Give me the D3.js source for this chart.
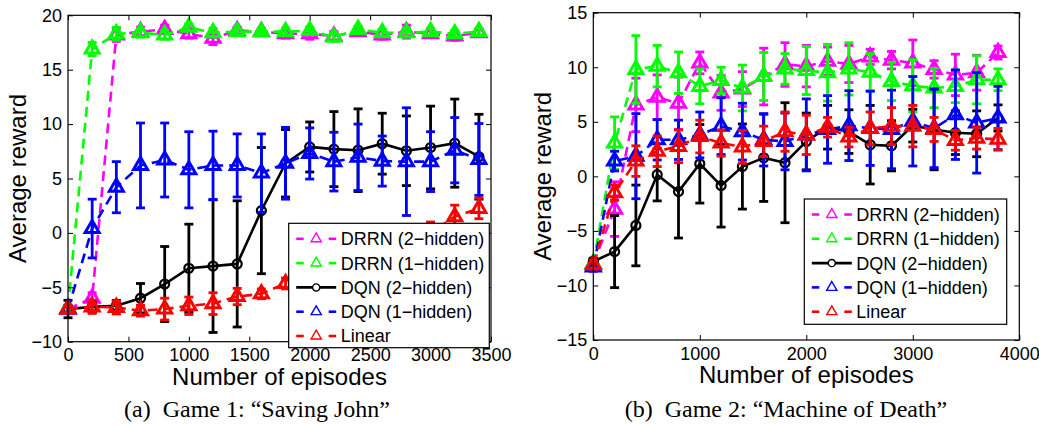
<!DOCTYPE html>
<html>
<head>
<meta charset="utf-8">
<script src="https://cdn.jsdelivr.net/npm/d3@7"></script>
<style>
  html, body { margin: 0; padding: 0; background: #fff; }
  svg { display: block; }
  text { font-family: "Liberation Sans", Arial, Helvetica, sans-serif; fill: #000; }
  .caption { font-family: "Liberation Serif", "Times New Roman", serif; white-space: pre; }
</style>
</head>
<body>
<svg id="chart" width="1039" height="425"></svg>
<script>
// Series order matches the legend (drawn back to front)
const seriesNames = ['DRRN (2\u2212hidden)', 'DRRN (1\u2212hidden)', 'DQN (2\u2212hidden)', 'DQN (1\u2212hidden)', 'Linear'];
const seriesColors = ['#ff00ff', '#00ff00', '#000000', '#0000ff', '#ff0000'];
const seriesMarkers = ['triangle', 'triangle', 'circle', 'triangle', 'triangle'];
const seriesDashed = [true, true, false, true, true];

// Game 1: "Saving John"
const game1Episodes = [0, 200, 400, 600, 800, 1000, 1200, 1400, 1600, 1800, 2000, 2200, 2400, 2600, 2800, 3000, 3200, 3400];
const game1XTicks = [0, 500, 1000, 1500, 2000, 2500, 3000, 3500];
const game1YTicks = [-10, -5, 0, 5, 10, 15, 20];

const game1Drrn2Mean = [-7.0, -6.0, 18.2, 18.5, 18.7, 18.3, 17.9, 18.6, 18.5, 18.3, 18.3, 18.1, 18.5, 18.2, 18.5, 18.3, 18.1, 18.4];
const game1Drrn2Err = [0.3, 0.5, 0.6, 0.4, 0.4, 0.4, 0.6, 0.3, 0.3, 0.4, 0.5, 0.4, 0.3, 0.4, 0.6, 0.3, 0.4, 0.3];
const game1Drrn1Mean = [-6.9, 16.9, 18.3, 18.4, 18.2, 18.9, 18.4, 18.5, 18.5, 18.5, 18.6, 18.0, 18.7, 18.4, 18.4, 18.5, 18.3, 18.5];
const game1Drrn1Err = [0.3, 0.6, 0.6, 0.4, 0.4, 0.3, 0.4, 0.3, 0.3, 0.3, 0.3, 0.4, 0.3, 0.3, 0.4, 0.3, 0.3, 0.3];
const game1Dqn2Mean = [-7.0, -6.8, -6.7, -6.0, -4.7, -3.25, -3.05, -2.85, 2.05, 6.4, 7.9, 7.7, 7.6, 8.2, 7.55, 7.85, 8.25, 7.0];
const game1Dqn2Err = [0.8, 0.5, 0.5, 1.35, 3.45, 4.05, 6.1, 5.8, 5.8, 3.1, 2.3, 3.45, 3.8, 2.8, 3.2, 3.8, 4.05, 3.9];
const game1Dqn1Mean = [-7.0, 0.4, 4.2, 6.2, 6.7, 5.8, 6.2, 6.2, 5.5, 6.4, 7.3, 6.55, 6.95, 6.6, 6.55, 6.55, 7.6, 6.75];
const game1Dqn1Err = [0.3, 2.7, 2.35, 3.9, 3.4, 3.5, 3.15, 2.9, 3.6, 3.3, 2.35, 2.7, 3.05, 2.3, 4.95, 2.75, 3.0, 3.3];
const game1LinearMean = [-7.0, -6.8, -6.85, -7.15, -7.0, -6.7, -6.5, -5.85, -5.6, -4.65, -4.2, -3.4, -2.6, -1.7, -0.8, 0.0, 1.5, 2.25];
const game1LinearErr = [0.3, 0.6, 0.6, 0.5, 1.0, 0.8, 1.0, 0.75, 0.45, 0.5, 0.6, 0.8, 0.8, 0.9, 1.0, 1.0, 1.05, 0.95];

// Game 2: "Machine of Death"
const game2Episodes = [0, 200, 400, 600, 800, 1000, 1200, 1400, 1600, 1800, 2000, 2200, 2400, 2600, 2800, 3000, 3200, 3400, 3600, 3800];
const game2XTicks = [0, 1000, 2000, 3000, 4000];
const game2YTicks = [-15, -10, -5, 0, 5, 10, 15];

const game2Drrn2Mean = [-8.0, -3.0, 6.55, 7.25, 6.7, 10.4, 7.65, 8.0, 9.15, 10.25, 10.1, 10.55, 10.3, 10.95, 10.65, 10.4, 9.8, 9.3, 9.5, 11.35];
const game2Drrn2Err = [0.4, 2.5, 2.45, 2.05, 2.4, 1.0, 1.6, 1.6, 2.6, 2.0, 1.9, 1.3, 1.7, 0.7, 0.8, 2.1, 0.8, 1.9, 1.6, 0.6];
const game2Drrn1Mean = [-8.0, 3.05, 9.8, 10.1, 9.5, 8.25, 8.8, 8.1, 9.15, 9.85, 9.7, 9.5, 9.85, 9.55, 8.7, 8.3, 8.1, 8.25, 8.85, 8.85];
const game2Drrn1Err = [0.4, 2.4, 3.1, 1.9, 1.9, 1.6, 1.2, 2.1, 2.2, 1.4, 2.2, 2.6, 2.4, 1.7, 1.75, 2.4, 1.8, 1.5, 2.2, 1.0];
const game2Dqn2Mean = [-7.8, -6.9, -4.5, 0.15, -1.4, 1.15, -0.85, 0.9, 1.7, 1.25, 3.2, 4.5, 4.1, 2.9, 2.8, 4.65, 4.3, 4.0, 3.9, 5.35];
const game2Dqn2Err = [0.3, 3.3, 3.7, 2.4, 4.25, 3.6, 3.8, 3.9, 4.0, 5.5, 2.6, 2.0, 2.0, 3.6, 2.3, 1.5, 3.7, 2.0, 2.1, 1.2];
const game2Dqn1Mean = [-8.3, 1.4, 1.85, 3.35, 3.35, 3.8, 4.6, 4.1, 3.35, 3.2, 3.8, 4.3, 4.65, 4.4, 4.3, 5.05, 4.4, 5.65, 4.9, 5.35];
const game2Dqn1Err = [0.4, 0.9, 3.9, 1.85, 1.8, 2.1, 2.6, 2.6, 2.4, 2.6, 3.3, 3.1, 3.2, 3.4, 3.6, 4.1, 3.6, 4.1, 4.6, 2.9];
const game2LinearMean = [-8.1, -1.5, 1.4, 2.3, 2.75, 3.65, 3.05, 2.7, 3.2, 4.1, 3.8, 4.5, 3.6, 4.4, 4.6, 4.6, 4.3, 3.3, 3.5, 3.4];
const game2LinearErr = [0.4, 0.7, 1.4, 1.4, 1.5, 1.5, 1.2, 1.5, 1.4, 1.8, 1.8, 0.9, 0.9, 1.5, 1.7, 1.9, 1.1, 0.9, 1.0, 1.0];

const svg = d3.select('#chart');
const tickFormat = d3.format('d');

function drawPanel(p) {
    const x = d3.scaleLinear().domain(p.xDomain).range([p.left, p.right]);
    const y = d3.scaleLinear().domain(p.yDomain).range([p.bottom, p.top]);
    const g = svg.append('g');

    // Series: error bars, connecting line, then markers
    p.means.forEach((means, i) => {
        const color = seriesColors[i];
        const pts = p.episodes.map((e, j) => ({ e: e, m: means[j], d: p.errs[i][j] }));
        const s = g.append('g');

        const bars = s.append('g').attr('stroke', color).attr('stroke-width', 2.8).attr('fill', 'none');
        pts.forEach(d => {
            const cx = x(d.e), y0 = y(d.m - d.d), y1 = y(d.m + d.d);
            bars.append('line').attr('x1', cx).attr('x2', cx).attr('y1', y0).attr('y2', y1);
            bars.append('line').attr('x1', cx - 4.5).attr('x2', cx + 4.5).attr('y1', y0).attr('y2', y0);
            bars.append('line').attr('x1', cx - 4.5).attr('x2', cx + 4.5).attr('y1', y1).attr('y2', y1);
        });

        s.append('path')
            .datum(pts)
            .attr('d', d3.line().x(d => x(d.e)).y(d => y(d.m)))
            .attr('fill', 'none')
            .attr('stroke', color)
            .attr('stroke-width', 2.6)
            .attr('stroke-dasharray', seriesDashed[i] ? '10,6' : null);

        const symbol = seriesMarkers[i] === 'circle'
            ? d3.symbol().type(d3.symbolCircle).size(64)
            : d3.symbol().type(d3.symbolTriangle).size(85);
        s.selectAll('.mk')
            .data(pts)
            .enter().append('path')
            .attr('transform', d => `translate(${x(d.e)},${y(d.m)})`)
            .attr('d', symbol)
            .attr('fill', 'none')
            .attr('stroke', color)
            .attr('stroke-width', seriesMarkers[i] === 'circle' ? 2.2 : 3);
    });

    // Axes with inward ticks on all four sides
    const axisStyle = sel => {
        sel.select('.domain').remove();
        sel.selectAll('.tick line').attr('stroke', '#000').attr('stroke-width', 1);
        sel.selectAll('text').attr('font-size', 18).attr('font-family', '"Liberation Sans", Arial, sans-serif');
    };
    g.append('g').attr('transform', `translate(0,${p.bottom})`)
        .call(d3.axisBottom(x).tickValues(p.xTicks).tickFormat(tickFormat).tickSize(-5).tickPadding(7))
        .call(axisStyle);
    g.append('g').attr('transform', `translate(0,${p.top})`)
        .call(d3.axisTop(x).tickValues(p.xTicks).tickSize(-5).tickFormat(''))
        .call(axisStyle);
    g.append('g').attr('transform', `translate(${p.left},0)`)
        .call(d3.axisLeft(y).tickValues(p.yTicks).tickSize(-5).tickPadding(6))
        .call(axisStyle);
    g.append('g').attr('transform', `translate(${p.right},0)`)
        .call(d3.axisRight(y).tickValues(p.yTicks).tickSize(-5).tickFormat(''))
        .call(axisStyle);

    g.append('rect')
        .attr('x', p.left).attr('y', p.top)
        .attr('width', p.right - p.left).attr('height', p.bottom - p.top)
        .attr('fill', 'none').attr('stroke', '#000').attr('stroke-width', 1.2);

    // Axis titles
    g.append('text')
        .attr('x', (p.left + p.right) / 2).attr('y', p.xTitleY)
        .attr('text-anchor', 'middle').attr('font-size', 24)
        .text('Number of episodes');
    g.append('text')
        .attr('transform', `translate(${p.yTitleX},${(p.top + p.bottom) / 2}) rotate(-90)`)
        .attr('text-anchor', 'middle').attr('font-size', 24)
        .text('Average reward');

    // Legend
    const lg = g.append('g').attr('transform', `translate(${p.legend.x},${p.legend.y})`);
    lg.append('rect')
        .attr('width', p.legend.w).attr('height', p.legend.h)
        .attr('fill', '#fff').attr('stroke', '#000').attr('stroke-width', 1.2);
    seriesNames.forEach((name, i) => {
        const ry = 15.5 + i * 24.3;
        const color = seriesColors[i];
        if (seriesDashed[i]) {
            lg.append('line').attr('x1', 7.5).attr('x2', 15).attr('y1', ry).attr('y2', ry)
                .attr('stroke', color).attr('stroke-width', 2.6);
            lg.append('line').attr('x1', 40).attr('x2', 47.5).attr('y1', ry).attr('y2', ry)
                .attr('stroke', color).attr('stroke-width', 2.6);
        } else {
            lg.append('line').attr('x1', 7.5).attr('x2', 47.5).attr('y1', ry).attr('y2', ry)
                .attr('stroke', color).attr('stroke-width', 2.6);
        }
        const symbol = seriesMarkers[i] === 'circle'
            ? d3.symbol().type(d3.symbolCircle).size(40)
            : d3.symbol().type(d3.symbolTriangle).size(45);
        lg.append('path')
            .attr('transform', `translate(27.5,${ry})`)
            .attr('d', symbol)
            .attr('fill', seriesMarkers[i] === 'circle' ? '#fff' : 'none')
            .attr('stroke', color).attr('stroke-width', 1.4);
        lg.append('text')
            .attr('x', 52).attr('y', ry + 6.5)
            .attr('font-size', 18)
            .text(name);
    });

    // Caption
    svg.append('text')
        .attr('class', 'caption')
        .attr('x', p.captionX).attr('y', 417)
        .attr('text-anchor', 'middle').attr('font-size', 24)
        .text(p.caption);
}

drawPanel({
    left: 68, right: 491, top: 15.3, bottom: 341.7,
    xDomain: [0, 3500], yDomain: [-10, 20],
    xTicks: game1XTicks, yTicks: game1YTicks,
    episodes: game1Episodes,
    means: [game1Drrn2Mean, game1Drrn1Mean, game1Dqn2Mean, game1Dqn1Mean, game1LinearMean],
    errs: [game1Drrn2Err, game1Drrn1Err, game1Dqn2Err, game1Dqn1Err, game1LinearErr],
    xTitleY: 384.5, yTitleX: 25.5,
    legend: { x: 288.7, y: 223.3, w: 200.6, h: 124.4 },
    captionX: 257, caption: '(a)  Game 1: \u201cSaving John\u201d'
});

drawPanel({
    left: 593.3, right: 1019.3, top: 12.7, bottom: 340,
    xDomain: [0, 4000], yDomain: [-15, 15],
    xTicks: game2XTicks, yTicks: game2YTicks,
    episodes: game2Episodes,
    means: [game2Drrn2Mean, game2Drrn1Mean, game2Dqn2Mean, game2Dqn1Mean, game2LinearMean],
    errs: [game2Drrn2Err, game2Drrn1Err, game2Dqn2Err, game2Dqn1Err, game2LinearErr],
    xTitleY: 382.5, yTitleX: 550.5,
    legend: { x: 804.3, y: 199, w: 202.4, h: 125.3 },
    captionX: 786, caption: '(b)  Game 2: \u201cMachine of Death\u201d'
});
</script>
</body>
</html>
